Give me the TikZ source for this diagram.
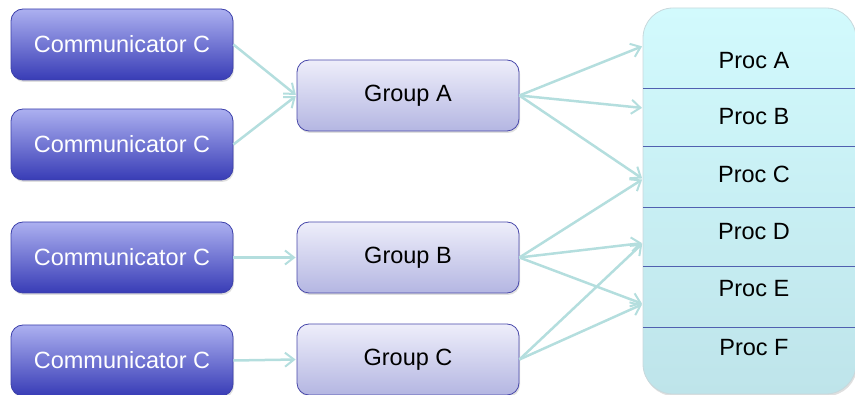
\documentclass[tikz,border=0pt]{standalone}
\usepackage{fontspec}
\setmainfont{Liberation Sans}
\usetikzlibrary{arrows.meta,shadows}
\definecolor{commtop}{RGB}{172,176,240}
\definecolor{commbot}{RGB}{56,60,182}
\definecolor{commdraw}{RGB}{60,64,170}
\definecolor{grptop}{RGB}{238,238,250}
\definecolor{grpbot}{RGB}{180,182,226}
\definecolor{grpdraw}{RGB}{72,72,170}
\definecolor{proctop}{RGB}{210,250,253}
\definecolor{procbot}{RGB}{190,228,234}
\definecolor{procdraw}{RGB}{200,216,220}
\definecolor{divline}{RGB}{80,96,176}
\definecolor{arrowcol}{RGB}{180,222,222}
\tikzset{
  commbox/.style={rounded corners=12pt, top color=commtop, bottom color=commbot, draw=commdraw, line width=0.8pt,
    minimum width=222pt, minimum height=71pt, inner sep=0pt, text=white,
    font=\fontsize{23.5}{28}\selectfont,
    drop shadow={shadow xshift=1pt, shadow yshift=-2pt, opacity=0.25}},
  grpbox/.style={rounded corners=12pt, top color=grptop, bottom color=grpbot, draw=grpdraw, line width=0.8pt,
    minimum width=222pt, minimum height=71pt, inner sep=0pt, text=black,
    font=\fontsize{23.5}{28}\selectfont,
    drop shadow={shadow xshift=1pt, shadow yshift=-2pt, opacity=0.25}},
  procbox/.style={rounded corners=30pt, top color=proctop, bottom color=procbot, draw=procdraw, line width=0.8pt,
    minimum width=213pt, minimum height=386pt, inner sep=0pt,
    drop shadow={shadow xshift=1pt, shadow yshift=-2pt, opacity=0.25}},
  proclabel/.style={font=\fontsize{23.5}{28}\selectfont, text=black, inner sep=0pt},
  divider/.style={draw=divline, line width=0.8pt},
  link/.style={draw=arrowcol, line width=2.5pt, -{Straight Barb[length=9pt,width=14pt,line width=2pt]}, shorten >=1pt}
}
\begin{document}
\begin{tikzpicture}[x=1pt,y=-1pt]
\useasboundingbox (0,0) rectangle (855,395);
% communicators
\node[commbox] (c1) at (122,44.5) {Communicator C};
\node[commbox] (c2) at (122,144.5) {Communicator C};
\node[commbox] (c3) at (122,257.5) {Communicator C};
\node[commbox] (c4) at (122,360.5) {Communicator C};
% groups
\node[grpbox] (ga) at (408,95.5) {Group A};
\node[grpbox] (gb) at (408,257.5) {Group B};
\node[grpbox] (gc) at (408,359.5) {Group C};
% process box
\node[procbox] (proc) at (749.5,201) {};
\draw[divider] (643,88) -- (856,88);
\draw[divider] (643,146) -- (856,146);
\draw[divider] (643,207) -- (856,207);
\draw[divider] (643,266) -- (856,266);
\draw[divider] (643,327) -- (856,327);
\node[proclabel] (pa) at (754,61) {Proc A};
\node[proclabel] (pb) at (754,117) {Proc B};
\node[proclabel] (pc) at (754,174) {Proc C};
\node[proclabel] (pd) at (754,232) {Proc D};
\node[proclabel] (pe) at (754,289) {Proc E};
\node[proclabel] (pf) at (754,348) {Proc F};
% arrival points
\coordinate (ia) at (643,46);
\coordinate (ib) at (643,108);
\coordinate (ic) at (643,179);
\coordinate (id) at (643,243);
\coordinate (ie) at (643,304);
% connectors
\draw[link] (c1.east) -- (ga.west);
\draw[link] (c2.east) -- (ga.west);
\draw[link] (c3.east) -- (gb.west);
\draw[link] (c4.east) -- (gc.west);
\draw[link] (ga.east) -- (ia);
\draw[link] (ga.east) -- (ib);
\draw[link] (ga.east) -- (ic);
\draw[link] (gb.east) -- (ic);
\draw[link] (gb.east) -- (id);
\draw[link] (gb.east) -- (ie);
\draw[link] (gc.east) -- (id);
\draw[link] (gc.east) -- (ie);
\end{tikzpicture}
\end{document}
